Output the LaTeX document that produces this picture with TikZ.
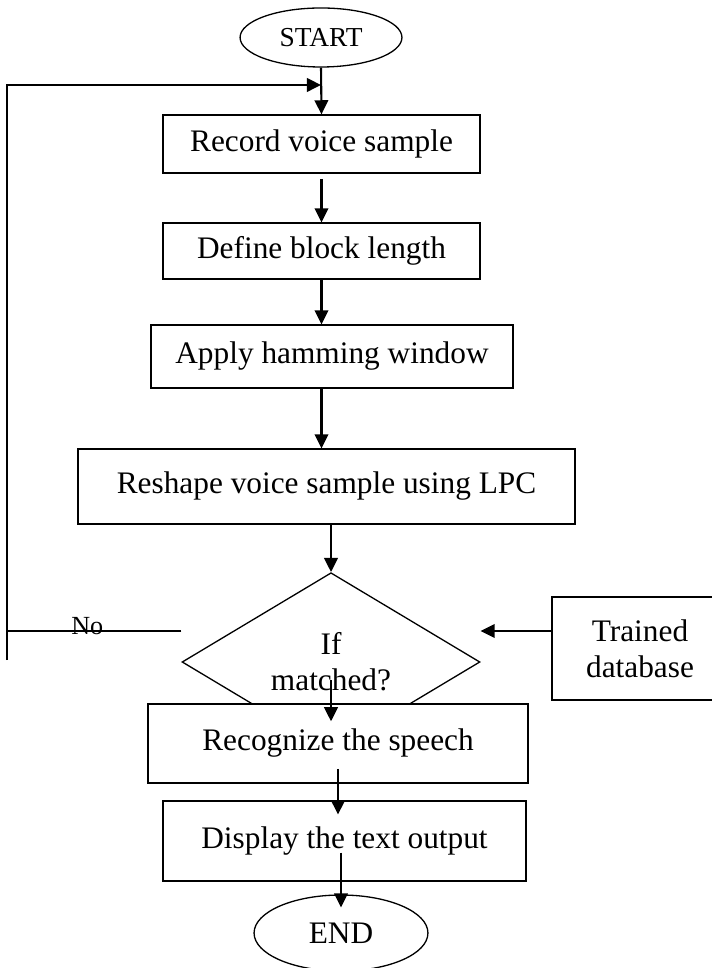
\documentclass[tikz,border=0pt]{standalone}
\usepackage{fontspec}
\setmainfont{Liberation Serif}
\usepackage{tikz}
\usetikzlibrary{arrows.meta}
\usetikzlibrary{shapes,positioning}

\begin{document}
\begin{tikzpicture}[x=0.383pt,y=-0.383pt,
    font=\fontsize{12}{13.8}\selectfont,
    box/.style={draw,line width=0.5pt,fill=white,align=center,inner sep=0pt},
    arr/.style={line width=0.8pt,-{Triangle[length=5.4pt,width=5.2pt]}},
    lin/.style={line width=0.8pt}]
  \useasboundingbox (0,0) rectangle (712,968);

  \node[box,ellipse,minimum width=62pt,minimum height=22.6pt,
        font=\fontsize{10.5}{12}\selectfont] (start) at (321,37.5) {START};
  \node[box,minimum width=121.4pt,minimum height=22.2pt] (rec) at (321.5,144) {Record voice sample};
  \node[box,minimum width=121.4pt,minimum height=21.4pt] (blk) at (321.5,251) {Define block length};
  \node[box,minimum width=138.6pt,minimum height=24.1pt] (ham) at (332,356.5) {Apply hamming window};
  \node[box,minimum width=190.4pt,minimum height=28.7pt] (lpc) at (326.5,486.5) {Reshape voice sample using LPC};
  \node[box,diamond,minimum width=114.1pt,minimum height=60.5pt] (match) at (331,662) {If\\matched?};
  \node[box,minimum width=67.4pt,minimum height=39.4pt] (db) at (640,648.5) {Trained\\database};
  \node[box,minimum width=145.5pt,minimum height=30.3pt] (speech) at (338,743.5) {Recognize the speech};
  \node[box,minimum width=139pt,minimum height=30.6pt] (disp) at (344.5,841) {Display the text output};
  \node[box,ellipse,minimum width=66.6pt,minimum height=29.1pt] (fin) at (341,933) {END};

  \coordinate (lt) at (7,85);
  \coordinate (lb) at (7,660);

  \draw[arr] (start.south) -- (rec.north);
  \draw[arr] (lb) -- (lt) -- (lt -| start.south);
  \draw[arr] ([yshift=-2pt]rec.south) -- (blk.north);
  \draw[arr] (blk.south) -- (blk.south |- ham.north);
  \draw[arr] (ham.south -| rec.south) -- (lpc.north -| rec.south);
  \draw[arr] (lpc.south -| match.north) -- (match.north);
  \draw[lin] ([yshift=11.9pt]match.west) -- ([yshift=11.9pt]match.west -| lb)
    node[pos=.54,yshift=1.7pt,font=\fontsize{10}{12}\selectfont] {No};
  \draw[arr] ([yshift=6.7pt]db.west) -- ([yshift=6.7pt]db.west -| match.east);
  \draw[arr] ([yshift=-6.9pt]match.center) -- ([yshift=-6.9pt]speech.north -| match.center);
  \draw[arr] ([yshift=5.7pt]speech.south) -- ([yshift=-5.4pt]disp.north -| speech.south);
  \draw[arr] ([yshift=11.1pt]disp.south -| fin.north) -- ([yshift=-5pt]fin.north);
\end{tikzpicture}
\end{document}
